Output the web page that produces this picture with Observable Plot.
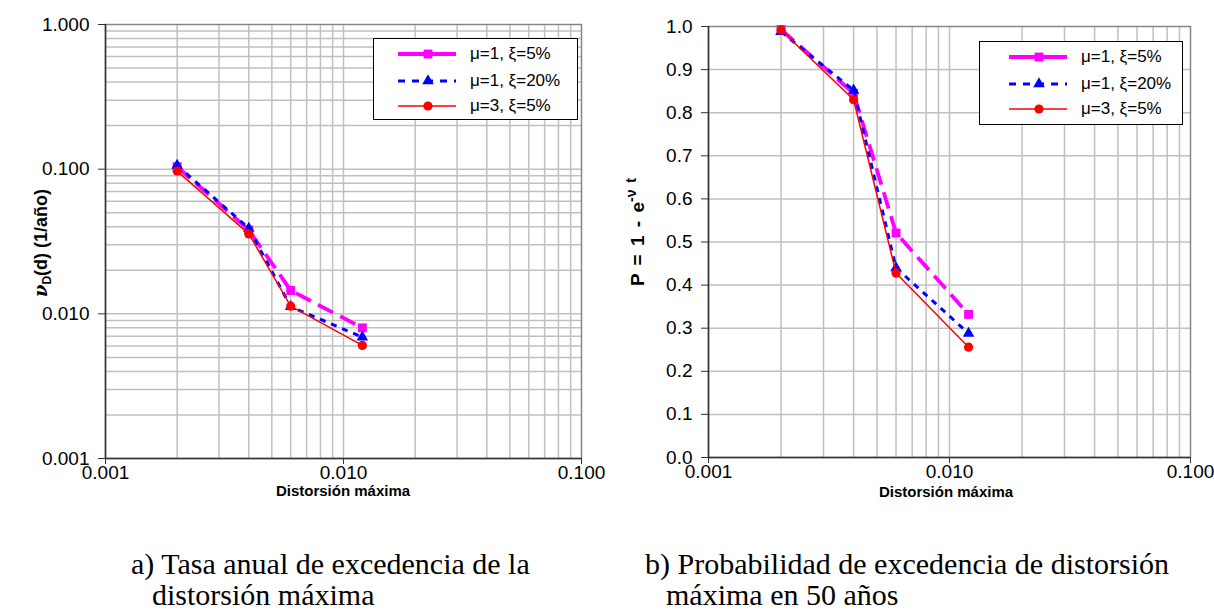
<!DOCTYPE html>
<html><head><meta charset="utf-8">
<script src="https://cdn.jsdelivr.net/npm/d3@7"></script>
<script src="https://cdn.jsdelivr.net/npm/@observablehq/plot@0.6"></script>
<style>
body{margin:0;background:#fff;}
#root{position:relative;width:1214px;height:610px;overflow:hidden;background:#fff;font-family:"Liberation Sans",Arial,sans-serif;color:#000;}
.legend{position:absolute;border:1px solid #000;background:#fff;box-sizing:border-box;}
.lrow{position:absolute;left:0;height:20px;display:flex;align-items:center;font-size:17px;white-space:nowrap;}
.lrow svg{margin-right:12px;}
.ylab{position:absolute;font-weight:bold;font-size:18px;white-space:nowrap;transform:translate(-50%,-50%) rotate(-90deg);}
.xlab{position:absolute;font-weight:bold;font-size:15px;white-space:nowrap;transform:translate(-50%,-50%);}
.cap{position:absolute;font-family:"Liberation Serif","Times New Roman",serif;font-size:30px;white-space:nowrap;line-height:1;}
</style></head><body><div id="root"></div>
<script>
// ---- data ----
const distortion = [0.002, 0.004, 0.006, 0.012];
const seriesNames = ["μ=1, ξ=5%", "μ=1, ξ=20%", "μ=3, ξ=5%"];
const rateMu1Xi5  = [0.104, 0.038, 0.0145, 0.0080];
const rateMu1Xi20 = [0.106, 0.039, 0.0112, 0.0069];
const rateMu3Xi5  = [0.097, 0.0357, 0.0113, 0.00605];
const probMu1Xi5  = [0.993, 0.845, 0.521, 0.332];
const probMu1Xi20 = [0.988, 0.852, 0.440, 0.288];
const probMu3Xi5  = [0.992, 0.830, 0.428, 0.256];
const xTicks = [0.001, 0.01, 0.1];
const xGrid = [0.002,0.003,0.004,0.005,0.006,0.007,0.008,0.009,0.01,0.02,0.03,0.04,0.05,0.06,0.07,0.08,0.09];
const yTicksRate = [0.001, 0.01, 0.1, 1];
const yGridRate = [0.002,0.003,0.004,0.005,0.006,0.007,0.008,0.009,0.01,0.02,0.03,0.04,0.05,0.06,0.07,0.08,0.09,0.1,0.2,0.3,0.4,0.5,0.6,0.7,0.8,0.9];
const yTicksProb = [0,0.1,0.2,0.3,0.4,0.5,0.6,0.7,0.8,0.9,1.0];
const yGridProb = [0.1,0.2,0.3,0.4,0.5,0.6,0.7,0.8,0.9];

// ---- styles ----
const colors = ["#FF00FF", "#0000FF", "#FF0000"];
const symbols = ["square", "triangle", "circle"];
const radii = [5, 4.3, 4.6];
const widths = [3.8, 3, 1.5];
const dashes = ["17,8", "6,6", null];

const rates = [rateMu1Xi5, rateMu1Xi20, rateMu3Xi5];
const probs = [probMu1Xi5, probMu1Xi20, probMu3Xi5];
const rows = [];
seriesNames.forEach((s, i) => distortion.forEach((d, j) => rows.push({s, i, x: d, rate: rates[i][j], prob: probs[i][j]})));

const root = document.getElementById("root");
const FONT = '"Liberation Sans", Arial, sans-serif';

function seriesMarks(yField) {
  const marks = [];
  seriesNames.forEach((s, i) => {
    const d = rows.filter(r => r.i === i);
    marks.push(Plot.line(d, {x: "x", y: yField, stroke: colors[i], strokeWidth: widths[i], strokeDasharray: dashes[i], strokeLinecap: "butt"}));
    marks.push(Plot.dot(d, {x: "x", y: yField, symbol: symbols[i], r: radii[i], fill: colors[i], stroke: "none"}));
  });
  return marks;
}

function chart(cfg) {
  return Plot.plot({
    width: 607, height: 500,
    marginLeft: cfg.ml, marginRight: cfg.mr, marginTop: cfg.mt, marginBottom: 500 - cfg.bottom,
    style: {fontFamily: FONT, fontSize: "19px", color: "#000", background: "transparent", overflow: "visible"},
    x: {type: "log", domain: [0.001, 0.1]},
    y: cfg.y,
    marks: [
      Plot.gridX(xGrid, {stroke: "#c0c0c0", strokeOpacity: 1, strokeWidth: 1.5}),
      Plot.gridY(cfg.yGrid, {stroke: "#c0c0c0", strokeOpacity: 1, strokeWidth: 1.5}),
      Plot.frame({stroke: "#868686", strokeWidth: 1.5}),
      Plot.axisX(xTicks, {tickFormat: d3.format(".3f"), tickSize: 6, tickPadding: 1, stroke: "#333", fontSize: 19, fontFamily: FONT, fill: "#000", label: null}),
      Plot.axisY(cfg.yTicks, {tickFormat: cfg.yFormat, tickSize: 7, tickPadding: 9, stroke: "#333", fontSize: 19, fontFamily: FONT, fill: "#000", label: null}),
      Plot.ruleX([0.001], {stroke: "#333", strokeWidth: 1.5}),
      Plot.ruleY([cfg.y.domain[0]], {stroke: "#333", strokeWidth: 1.5}),
      ...seriesMarks(cfg.field)
    ]
  });
}

const left = chart({ml: 105, mr: 26, mt: 24, bottom: 458, field: "rate",
  y: {type: "log", domain: [0.001, 1]}, yGrid: yGridRate, yTicks: yTicksRate, yFormat: d3.format(".3f")});
left.style.position = "absolute"; left.style.left = "0px"; left.style.top = "0px";
root.appendChild(left);

const right = chart({ml: 101, mr: 24, mt: 26, bottom: 457, field: "prob",
  y: {type: "linear", domain: [0, 1]}, yGrid: yGridProb, yTicks: yTicksProb, yFormat: d3.format(".1f")});
right.style.position = "absolute"; right.style.left = "607px"; right.style.top = "0px";
root.appendChild(right);

// ---- legends ----
function legend(x, y, w, h, rowYs, sx) {
  const box = document.createElement("div");
  box.className = "legend";
  Object.assign(box.style, {left: x + "px", top: y + "px", width: w + "px", height: h + "px"});
  seriesNames.forEach((s, i) => {
    const row = document.createElement("div");
    row.className = "lrow";
    row.style.top = (rowYs[i] - y - 10) + "px";
    row.style.left = (sx - x) + "px";
    const ns = "http://www.w3.org/2000/svg";
    const svg = document.createElementNS(ns, "svg");
    svg.setAttribute("width", 60); svg.setAttribute("height", 16);
    const ln = document.createElementNS(ns, "line");
    ln.setAttribute("x1", 0); ln.setAttribute("x2", 58); ln.setAttribute("y1", 8); ln.setAttribute("y2", 8);
    ln.setAttribute("stroke", colors[i]); ln.setAttribute("stroke-width", widths[i]);
    if (i === 1) ln.setAttribute("stroke-dasharray", "7,7");
    svg.appendChild(ln);
    const sym = {square: d3.symbolSquare, triangle: d3.symbolTriangle, circle: d3.symbolCircle}[symbols[i]];
    const p = document.createElementNS(ns, "path");
    p.setAttribute("d", d3.symbol(sym, Math.PI * radii[i] * radii[i])());
    p.setAttribute("transform", "translate(30,8)");
    p.setAttribute("fill", colors[i]);
    svg.appendChild(p);
    row.appendChild(svg);
    const t = document.createElement("span");
    t.textContent = s;
    row.appendChild(t);
    box.appendChild(row);
  });
  root.appendChild(box);
}
legend(373, 38, 205, 82, [53, 80, 105], 397);
legend(979, 41, 204, 84, [56, 83, 108], 1008);

// ---- axis titles ----
function addHTML(cls, html, x, y) {
  const d = document.createElement("div");
  d.className = cls; d.innerHTML = html;
  d.style.left = x + "px"; d.style.top = y + "px";
  root.appendChild(d);
  return d;
}
addHTML("ylab", '<i style="font-family:\'DejaVu Serif\',serif">ν</i><sub style="font-size:12px">D</sub>(d) (1/año)', 42, 243);
const pl = addHTML("ylab", 'P = 1 - e<sup style="font-size:14px">-ν t</sup>', 636, 232);
pl.style.fontSize = "19px"; pl.style.wordSpacing = "3px";
addHTML("xlab", "Distorsión máxima", 343, 490);
addHTML("xlab", "Distorsión máxima", 946, 491);

// ---- captions ----
addHTML("cap", "a) Tasa anual de excedencia de la", 131, 549);
addHTML("cap", "distorsión máxima", 152, 580);
addHTML("cap", "b) Probabilidad de excedencia de distorsión", 645, 549);
addHTML("cap", "máxima en 50 años", 666, 580);
</script>
</body></html>
